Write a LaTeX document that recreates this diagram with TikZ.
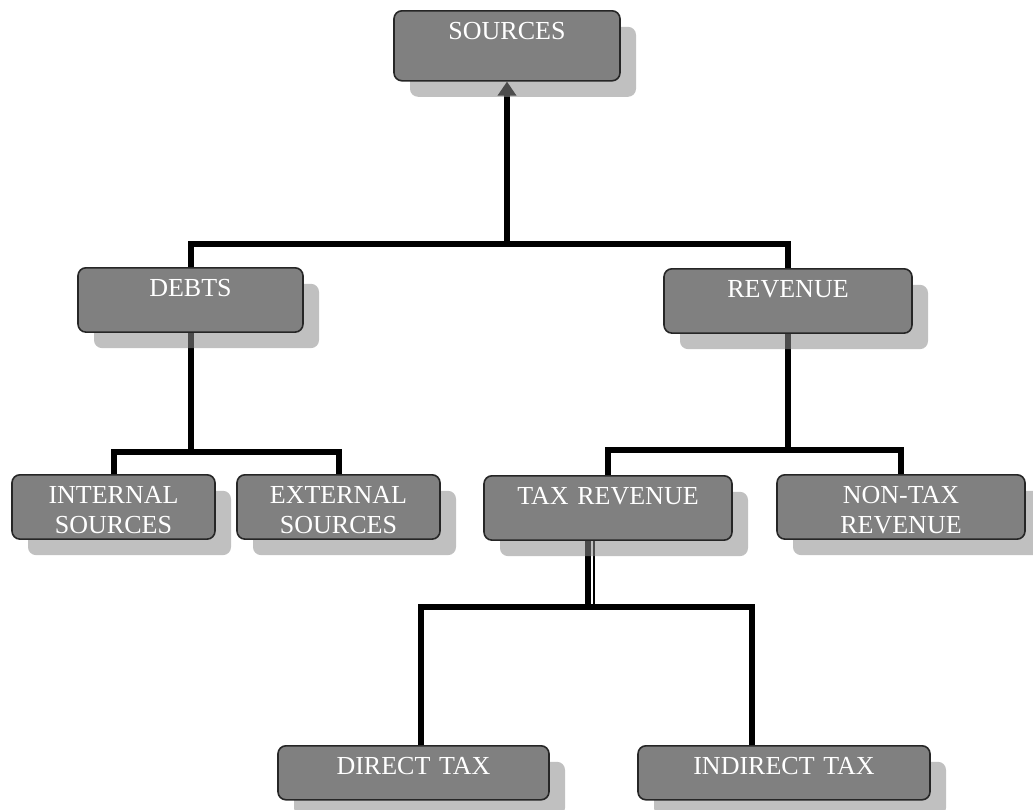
\documentclass[tikz,border=0pt]{standalone}
\usepackage{fontspec}
\setmainfont{Liberation Serif}
\usetikzlibrary{arrows.meta,shadows,backgrounds}
\tikzstyle{arrow} = [line width=4.5pt,-{Triangle[length=10.5pt,width=13.5pt]}]
\tikzstyle{link} = [line width=4.5pt]
\tikzset{
base/.style={draw=black!85,line width=1.2pt,fill=black!50,rounded corners=6pt,text=white,align=center,inner sep=0pt,
  text height=21.75pt,font=\fontsize{19.5}{22.5}\selectfont,anchor=north,
  drop shadow={shadow xshift=12pt,shadow yshift=-12pt,fill=black!45,opacity=.55}},
style1/.style={base,text depth=30.75pt},
style2/.style={base,text depth=26.5pt},
style3/.style={base,text depth=18.75pt}
}
\begin{document}
\begin{tikzpicture}[x=0.75pt,y=-0.75pt]
\useasboundingbox (0,0) rectangle (1033,810);

% the boxes, each placed by the middle of its top side
\node[style1,text width=169.5pt] (s) at (507,10) {SOURCES};
\node[style2,text width=168.75pt] (c1) at (190.5,267) {DEBTS};
\node[style2,text width=186pt] (c2) at (788,268) {REVENUE};

\node[style2,text width=152.25pt] (c11) at (113.5,474) {INTERNAL\\SOURCES};
\node[style2,text width=152.25pt] (c12) at (338.5,474) {EXTERNAL\\SOURCES};
\node[style2,text width=186pt] (c21) at (608,475) {TAX REVENUE};
\node[style2,text width=186pt] (c22) at (901,474) {NON-TAX\\REVENUE};

\node[style3,text width=203.25pt] (c211) at (413.5,745) {DIRECT TAX};
\node[style3,text width=219pt] (c212) at (784,745) {INDIRECT TAX};

% the lines, kept under the boxes and their shadows
\begin{scope}[on background layer]
\coordinate (b1) at (0,244);
\coordinate (b2) at (0,452);
\coordinate (b3) at (0,450);
\coordinate (b4) at (0,607);

\draw[link] (c1.north) |- (b1 -| c2.north) -- (c2.north);
\draw[arrow] (b1 -| s.south) -- (s.south);

\draw[link] (c11.north) |- (b2 -| c12.north) -- (c12.north);
\draw[link] (c1.south) -- (b2 -| c1.south);

\draw[link] (c21.north) |- (b3 -| c22.north) -- (c22.north);
\draw[link] (c2.south) -- (b3 -| c2.south);

% the tax branch is not centred on its boxes
\coordinate (t1) at ([xshift=-15pt]c21.south);
\coordinate (t2) at ([xshift=-10.5pt]c21.south);
\coordinate (d1) at ([xshift=5.6pt]c211.north);
\coordinate (d2) at ([xshift=-24pt]c212.north);
\draw[link] (d1) |- (b4 -| d2) -- (d2);
\draw[link] (t1) -- (b4 -| t1);
\draw[line width=1.2pt] (t2) -- (b4 -| t2);
\end{scope}

\end{tikzpicture}
\end{document}
